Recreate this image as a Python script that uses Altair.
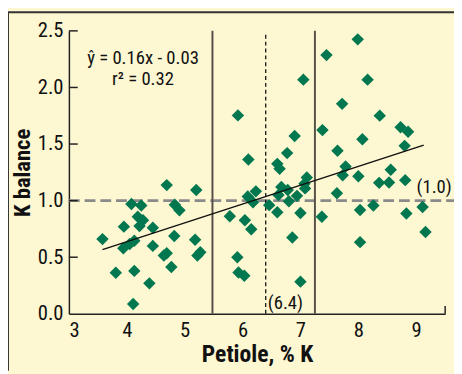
import altair as alt
import pandas as pd

# Scatter data
petiole_k = [4.69, 5.20, 4.08, 4.25, 4.83, 4.91, 4.19, 4.28, 3.95, 4.22, 4.45, 3.58, 4.82, 5.18,
             3.94, 4.05, 4.13, 4.45, 4.64, 4.69, 5.27, 5.22, 3.81, 4.13, 4.77, 4.39, 4.11,
             5.92, 6.10, 6.90, 6.77, 6.60, 6.64, 7.11, 7.07, 7.08, 6.23, 6.67, 6.78, 6.94, 6.09,
             6.62, 6.80, 6.46, 6.18, 6.60, 7.00, 5.78, 6.04, 6.15, 6.86, 5.91, 5.93, 6.03, 7.00, 7.05,
             7.99, 7.45, 8.16, 7.72, 8.37, 7.38, 8.07, 8.73, 8.86, 8.80, 7.64, 7.78, 7.73, 8.00,
             8.56, 8.36, 8.53, 8.81, 7.63, 7.37, 8.03, 8.26, 8.83, 9.11, 9.16, 8.03]
k_balance = [1.137, 1.094, 0.970, 0.957, 0.963, 0.914, 0.857, 0.827, 0.770, 0.775, 0.761, 0.660, 0.688, 0.654,
             0.579, 0.616, 0.645, 0.600, 0.515, 0.535, 0.544, 0.515, 0.362, 0.379, 0.414, 0.269, 0.087,
             1.753, 1.363, 1.571, 1.420, 1.325, 1.282, 1.204, 1.150, 1.108, 1.082, 1.120, 1.094, 1.042, 1.036,
             1.050, 0.995, 0.960, 0.985, 0.897, 0.891, 0.862, 0.827, 0.747, 0.674, 0.500, 0.365, 0.336, 0.284, 2.069,
             2.425, 2.286, 2.069, 1.855, 1.751, 1.623, 1.542, 1.649, 1.609, 1.484, 1.441, 1.302, 1.224, 1.215,
             1.273, 1.157, 1.160, 1.181, 1.065, 0.857, 0.917, 0.957, 0.887, 0.943, 0.723, 0.633]

# Regression line end points
fit_x = [3.58, 9.13]
fit_y = [0.567, 1.49]

# Reference lines
solid_vlines = [5.48, 7.25]
dashed_vline = [6.4]
hline = [1.0]

x_ticks = [3, 4, 5, 6, 7, 8, 9]
y_ticks = [0.0, 0.5, 1.0, 1.5, 2.0, 2.5]

# Annotations
ann_text = ["ŷ = 0.16x - 0.03", "r² = 0.32", "(1.0)", "(6.4)"]
ann_x = [4.28, 4.28, 9.31, 6.74]
ann_y = [2.205, 2.02, 1.07, 0.043]

FONT = "Liberation Sans Narrow, Roboto Condensed, Arial Narrow, Liberation Sans, sans-serif"
GREEN = "#00774F"
BG = "#FDF7D2"

W, H = 383, 288

pts = pd.DataFrame({"x": petiole_k, "y": k_balance})
fit = pd.DataFrame({"x": fit_x, "y": fit_y})
sv = pd.DataFrame({"x": solid_vlines})
dv = pd.DataFrame({"x": dashed_vline})
hv = pd.DataFrame({"y": hline})
yt = pd.DataFrame({"y": y_ticks[1:]})
ann = pd.DataFrame({"t": ann_text, "x": ann_x, "y": ann_y})

xscale = alt.Scale(domain=[3, 9.5], nice=False, zero=False)
yscale = alt.Scale(domain=[0, 2.5], nice=False, zero=False)

xenc = alt.X("x:Q", scale=xscale, axis=alt.Axis(
    values=x_ticks, format="d", ticks=False, grid=False, title="Petiole, % K",
    labelFont=FONT, labelFontSize=21, labelColor="#111", labelPadding=6,
    titleFont=FONT, titleFontSize=24, titleFontWeight="bold", titleColor="#111", titlePadding=3,
    domainColor="#222", domainWidth=1.5))
yenc = alt.Y("y:Q", scale=yscale, axis=alt.Axis(
    values=y_ticks, format=".1f", ticks=False, grid=False, title="K balance",
    labelFont=FONT, labelFontSize=21, labelColor="#111", labelPadding=6,
    titleFont=FONT, titleFontSize=23, titleFontWeight="bold", titleColor="#111", titlePadding=3,
    domainColor="#222", domainWidth=1.5))

points = alt.Chart(pts).mark_point(shape="diamond", filled=True, size=160, color=GREEN, opacity=1).encode(
    x=xenc, y=yenc)

hdash = alt.Chart(hv).mark_rule(color="#8a8a8a", strokeWidth=3, strokeDash=[11, 5]).encode(
    y=alt.Y("y:Q", scale=yscale), x=alt.value(0), x2=alt.value(W + 9))

svl = alt.Chart(sv).mark_rule(color="#555048", strokeWidth=2).encode(
    x=alt.X("x:Q", scale=xscale), y=alt.value(0), y2=alt.value(H))

dvl = alt.Chart(dv).mark_rule(color="#111", strokeWidth=1.3, strokeDash=[4, 3]).encode(
    x=alt.X("x:Q", scale=xscale), y=alt.value(4), y2=alt.value(H))

fitline = alt.Chart(fit).mark_line(color="#111", strokeWidth=1.5).encode(
    x=alt.X("x:Q", scale=xscale), y=alt.Y("y:Q", scale=yscale))

yticks = alt.Chart(yt).mark_rule(color="#222", strokeWidth=1.5).encode(
    y=alt.Y("y:Q", scale=yscale), x=alt.value(0), x2=alt.value(9))

endtick = alt.Chart(pd.DataFrame({"x": [9.5]})).mark_rule(color="#222", strokeWidth=1.5).encode(
    x=alt.X("x:Q", scale=xscale), y=alt.value(H), y2=alt.value(H - 8))

texts = alt.Chart(ann).mark_text(font=FONT, fontSize=19, color="#111", align="center", baseline="alphabetic").encode(
    x=alt.X("x:Q", scale=xscale), y=alt.Y("y:Q", scale=yscale), text="t:N")

border_top = alt.Chart(pd.DataFrame({"a": [0]})).mark_rule(color="#333", strokeWidth=2).encode(
    x=alt.value(-62), x2=alt.value(W + 9), y=alt.value(-19))
border_left = alt.Chart(pd.DataFrame({"a": [0]})).mark_rule(color="#333", strokeWidth=2).encode(
    x=alt.value(-62), y=alt.value(-19), y2=alt.value(H + 58))

chart = alt.layer(
    hdash, svl, dvl, yticks, endtick, points, fitline, texts, border_top, border_left
).properties(
    width=W, height=H,
    autosize=alt.AutoSizeParams(type="none"),
    padding={"left": 62, "top": 20, "right": 9, "bottom": 58},
    background=BG,
).configure_view(stroke=None)

chart.save("out.html", embed_options={"renderer": "svg", "actions": False})
